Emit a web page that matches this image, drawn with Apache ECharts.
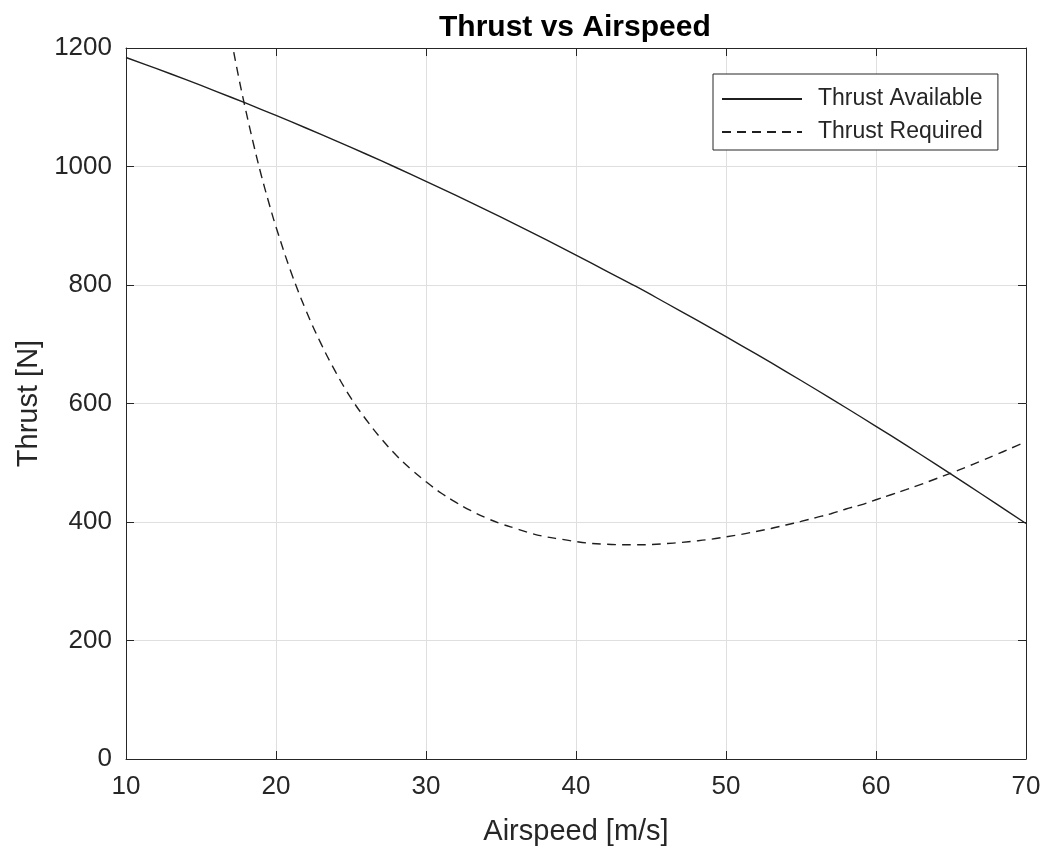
<!DOCTYPE html>
<html>
<head>
<meta charset="utf-8">
<script src="https://cdn.jsdelivr.net/npm/echarts@6/dist/echarts.min.js"></script>
<style>
html,body{margin:0;padding:0;background:#fff;overflow:hidden;}
#chart{width:1047px;height:847px;}
</style>
</head>
<body>
<div id="chart"></div>
<script>
// Airspeed [m/s] and thrust [N] values
const speedAvailable = [10,12,14,16,18,20,22,24,26,28,30,32,34,36,38,40,42,44,46,48,50,52,54,56,58,60,62,64,66,68,70];
const thrustAvailable = [1184,1165.5,1146.5,1126.9,1106.8,1086.2,1065,1043.3,1021.1,998.3,975,951.2,926.8,901.9,876.5,850.5,824,797.5,769.6,741.4,712.8,683.6,653.9,623.6,592.8,561.5,529.7,497.3,464.4,431,397.5];

const speedRequired = [17,17.5,18,18.5,19,19.5,20,21,22,23,24,25,26,27,28,29,30,31,32,33,34,35,36,37,38,39,40,41,42,43,44,45,46,47,48,49,50,51,52,53,54,55,56,57,58,59,60,61,62,63,64,65,66,67,68,69,70];
const thrustRequired = [1218,1152,1093,1038,987,941,898,822,757,701,652,609,573,541,513,489,468,449,433,419,407,397,389,381,375,371,367,364,362.5,361.7,361.5,362,363.5,365.5,368,371,375,379,384,389,395,401,407.5,414,422,429,437.5,446,454.5,463.5,473,482.5,492.5,503,513.5,524.5,535.5];

const xTicks = {min: 10, max: 70, interval: 10};
const yTicks = {min: 0, max: 1200, interval: 200};

const seriesNames = ['Thrust Available', 'Thrust Required'];
const titleText = 'Thrust vs Airspeed';
const xLabel = 'Airspeed [m/s]';
const yLabel = 'Thrust [N]';

const FONT = '"Liberation Sans", Arial, Helvetica, sans-serif';
const AX = '#262626';

const pairs = (xs, ys) => xs.map((x, i) => [x, ys[i]]);

const chart = echarts.init(document.getElementById('chart'), null, {renderer: 'canvas', width: 1047, height: 847});

const hiddenAxisCommon = {
  axisLine: {show: true, onZero: false, lineStyle: {color: AX, width: 1}},
  axisTick: {show: true, inside: true, length: 8, lineStyle: {color: AX, width: 1}},
  axisLabel: {show: false},
  splitLine: {show: false}
};

chart.setOption({
  animation: false,
  backgroundColor: '#ffffff',
  title: {
    text: titleText,
    left: 439,
    top: 13,
    padding: 0,
    textStyle: {fontFamily: FONT, fontSize: 30, fontWeight: 'bold', color: '#000'}
  },
  legend: {
    orient: 'vertical',
    left: 713,
    top: 74,
    padding: [12, 15, 5, 8],
    itemWidth: 80,
    itemHeight: 12,
    itemGap: 7,
    borderColor: '#262626',
    borderWidth: 1,
    backgroundColor: '#fff',
    itemStyle: {opacity: 0},
    data: seriesNames,
    textStyle: {fontFamily: FONT, fontSize: 23, color: '#262626', lineHeight: 26, padding: [0, 0, 0, 11]}
  },
  grid: {left: 126, right: 21, top: 48, bottom: 88, containLabel: false, outerBoundsMode: 'none'},
  xAxis: [{
    type: 'value',
    min: xTicks.min, max: xTicks.max, interval: xTicks.interval,
    name: xLabel,
    nameLocation: 'middle',
    nameGap: 58,
    nameTextStyle: {fontFamily: FONT, fontSize: 29, color: '#262626'},
    axisLine: {show: true, onZero: false, lineStyle: {color: AX, width: 1}},
    axisTick: {show: true, inside: true, length: 8, lineStyle: {color: AX}},
    axisLabel: {fontFamily: FONT, fontSize: 26, color: '#262626', margin: 15, formatter: v => String(v)},
    splitLine: {show: true, lineStyle: {color: '#dfdfdf', width: 1}}
  }, Object.assign({
    type: 'value', position: 'top',
    min: xTicks.min, max: xTicks.max, interval: xTicks.interval
  }, hiddenAxisCommon)],
  yAxis: [{
    type: 'value',
    min: yTicks.min, max: yTicks.max, interval: yTicks.interval,
    name: yLabel,
    nameLocation: 'middle',
    nameGap: 77,
    nameTextStyle: {fontFamily: FONT, fontSize: 29, color: '#262626'},
    axisLine: {show: true, onZero: false, lineStyle: {color: AX, width: 1}},
    axisTick: {show: true, inside: true, length: 8, lineStyle: {color: AX}},
    axisLabel: {fontFamily: FONT, fontSize: 26, color: '#262626', margin: 14, formatter: v => String(v)},
    splitLine: {show: true, lineStyle: {color: '#dfdfdf', width: 1}}
  }, Object.assign({
    type: 'value', position: 'right',
    min: yTicks.min, max: yTicks.max, interval: yTicks.interval
  }, hiddenAxisCommon)],
  series: [{
    name: seriesNames[0],
    type: 'line',
    data: pairs(speedAvailable, thrustAvailable),
    symbol: 'none',
    showSymbol: false,
    smooth: 0.4,
    clip: true,
    lineStyle: {color: '#1f1f1f', width: 1.4, type: 'solid'},
    itemStyle: {color: '#1f1f1f'}
  }, {
    name: seriesNames[1],
    type: 'line',
    data: pairs(speedRequired, thrustRequired),
    symbol: 'none',
    showSymbol: false,
    smooth: 0.4,
    clip: true,
    lineStyle: {color: '#1f1f1f', width: 1.4, type: [9, 6]},
    itemStyle: {color: '#1f1f1f'}
  }]
});
</script>
</body>
</html>
